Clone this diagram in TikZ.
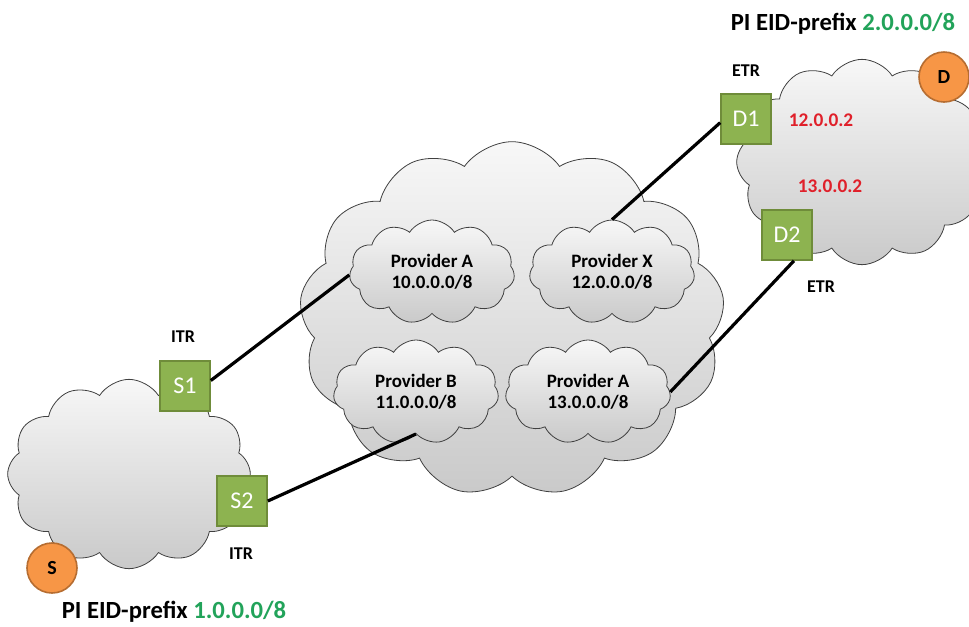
\documentclass[tikz,border=0pt]{standalone}
\usepackage{fontspec}
\setmainfont{Carlito}
\usetikzlibrary{shapes.symbols,shapes.geometric}
\definecolor{routerfill}{HTML}{8DB350}
\definecolor{routeredge}{HTML}{6F8C3A}
\definecolor{hostfill}{HTML}{F79646}
\definecolor{hostedge}{HTML}{B66D31}
\definecolor{eidgreen}{HTML}{22A35A}
\definecolor{rlocred}{HTML}{E0202A}
\begin{document}
\begin{tikzpicture}[x=0.75pt,y=-0.75pt,
  netcloud/.style={shape=cloud, cloud ignores aspect, draw=black!75, line width=0.6pt,
    top color=gray!6, bottom color=gray!42, inner sep=0pt},
  provcloud/.style={netcloud, cloud puffs=11, cloud puff arc=115,
    minimum width=124pt, minimum height=78pt, align=center,
    font=\bfseries\fontsize{14.2}{15.5}\selectfont},
  router/.style={draw=routeredge, line width=1.2pt, fill=routerfill, minimum size=37.5pt,
    inner sep=0pt, text=white, font=\fontsize{18}{20}\selectfont},
  host/.style={circle, draw=hostedge, line width=1.2pt, fill=hostfill, minimum size=37.5pt,
    inner sep=0pt, font=\bfseries\fontsize{15}{16}\selectfont},
  role/.style={font=\bfseries\fontsize{13.5}{14}\selectfont},
  rloc/.style={text=rlocred, font=\bfseries\fontsize{14.5}{15}\selectfont},
  eidlabel/.style={font=\bfseries\fontsize{18.5}{20}\selectfont},
  link/.style={line width=2.4pt, black}]
\useasboundingbox (0,0) rectangle (969,626);

% core and site clouds
\node[netcloud, cloud puffs=13, cloud puff arc=110, minimum width=319pt, minimum height=266pt] (core) at (512,319) {};
\node[netcloud, cloud puffs=12, cloud puff arc=115, minimum width=182pt, minimum height=142pt] (src) at (129,474) {};
\node[netcloud, cloud puffs=12, cloud puff arc=115, minimum width=188pt, minimum height=154pt] (dst) at (862,162) {};

% provider clouds
\node[provcloud] (pa1) at (432,272) {Provider A\\10.0.0.0/8};
\node[provcloud] (px)  at (612,272) {Provider X\\12.0.0.0/8};
\node[provcloud] (pb)  at (416,392) {Provider B\\11.0.0.0/8};
\node[provcloud] (pa2) at (588,392) {Provider A\\13.0.0.0/8};

% tunnel routers
\node[router] (s1) at (185,386) {S1};
\node[router] (s2) at (242,501) {S2};
\node[router] (d1) at (746,119) {D1};
\node[router] (d2) at (787,235) {D2};

% links
\draw[link] (s1.12) -- (pa1.182);
\draw[link] (s2.east) -- (pb.south);
\draw[link] (d1.188) -- (px.north);
\draw[link] (d2.-75) -- (pa2.east);

% hosts
\node[host] (hs) at (52,568) {S};
\node[host] (hd) at (944,77) {D};

% labels
\node[role] (itr1) at (183,337) {ITR};
\node[role] (itr2) at (241,554) {ITR};
\node[role] (etr1) at (746,71) {ETR};
\node[role] (etr2) at (821,287) {ETR};
\node[rloc] (r12) at (821,120) {12.0.0.2};
\node[rloc] (r13) at (830,186) {13.0.0.2};
\node[eidlabel] (ptop) at (843,24) {PI EID-prefix \textcolor{eidgreen}{2.0.0.0/8}};
\node[eidlabel] (pbot) at (174,612) {PI EID-prefix \textcolor{eidgreen}{1.0.0.0/8}};
\end{tikzpicture}
\end{document}
